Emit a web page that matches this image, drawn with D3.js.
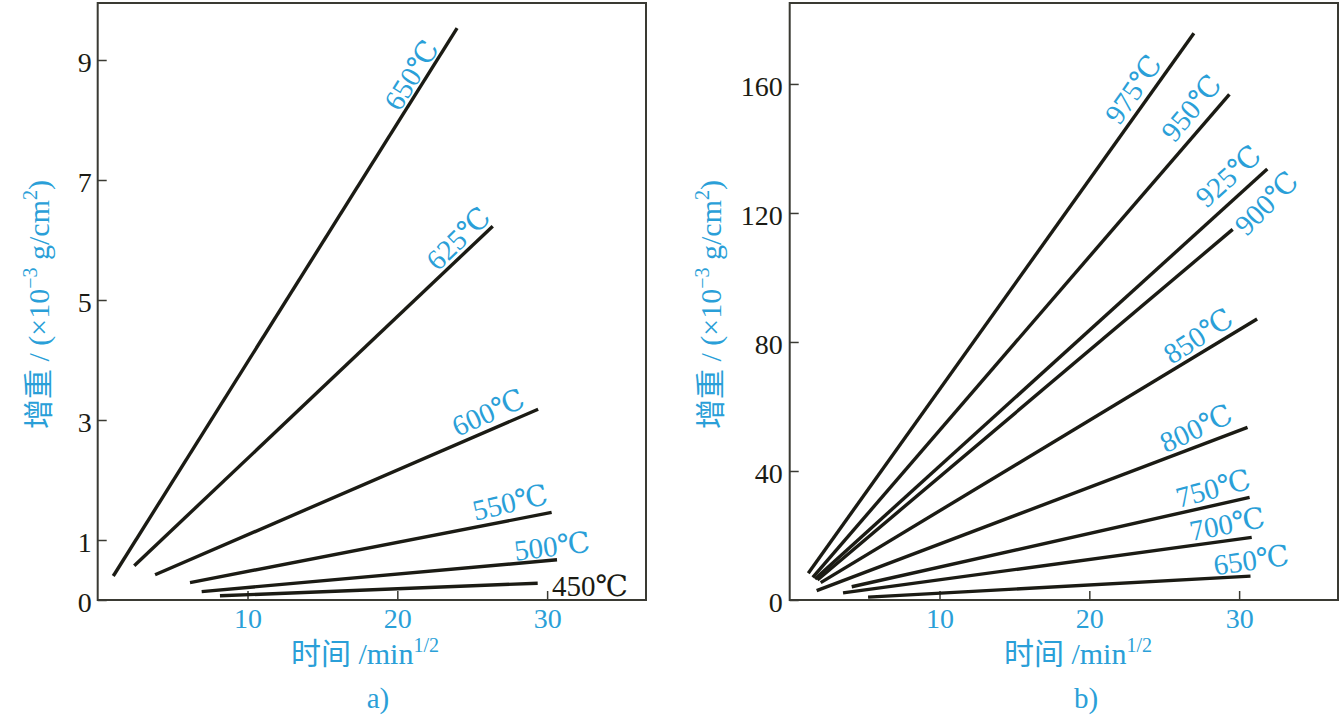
<!DOCTYPE html>
<html><head><meta charset="utf-8">
<script src="https://cdn.jsdelivr.net/npm/d3@7"></script>
<style>
html,body{margin:0;padding:0;background:#fff;}
svg{display:block;}
</style></head>
<body>
<svg id="chart" width="1341" height="725"></svg>
<script>
// ---------- DATA ----------
// Panel a) : oxidation weight gain lines (x = time^0.5 in min^1/2, y = ×10^-3 g/cm^2)
const tempsA = ["650℃","625℃","600℃","550℃","500℃","450℃"];
const linesA = [
  [[1.04,0.40],[23.99,9.53]],
  [[2.44,0.57],[26.37,6.23]],
  [[3.83,0.42],[29.40,3.18]],
  [[6.16,0.29],[30.30,1.46]],
  [[6.94,0.14],[30.66,0.67]],
  [[8.16,0.07],[29.37,0.28]]
];
const labelPosA = [[20.92,8.75],[24.05,6.03],[26.06,3.13],[27.52,1.63],[30.32,0.90],[32.86,0.23]];
const xTicksA = [10,20,30];
const yTicksA = [0,1,3,5,7,9];

// Panel b)
const tempsB = ["975℃","950℃","925℃","900℃","850℃","800℃","750℃","700℃","650℃"];
const linesB = [
  [[1.24,8.3],[26.98,175.7]],
  [[1.54,7.0],[29.35,156.8]],
  [[1.69,6.5],[31.88,133.6]],
  [[1.85,6.2],[29.57,114.9]],
  [[2.07,5.4],[31.20,87.1]],
  [[1.80,2.9],[30.56,53.5]],
  [[4.14,4.1],[30.70,31.8]],
  [[3.56,2.2],[30.84,19.4]],
  [[5.23,0.9],[30.76,7.4]]
];
const labelPosB = [[22.92,158.4],[26.79,152.6],[29.26,131.5],[31.80,123.1],[27.26,81.9],[27.12,53.3],[28.26,34.7],[29.20,23.6],[30.80,12.4]];
const xTicksB = [10,20,30];
const yTicksB = [0,40,80,120,160];

// ---------- LAYOUT / STYLE ----------
const CYAN = "#2a9fd8";
const INK = "#1b1b14";
const SERIF = "'Liberation Serif','DejaVu Serif',serif";
const CJK = "'Noto Sans CJK SC','Noto Sans CJK JP',sans-serif";
const labelAnglesA = [-58,-44,-24,-13,-7,0];
const labelColorsA = [CYAN,CYAN,CYAN,CYAN,CYAN,INK];
const labelAnglesB = [-55,-50,-42,-45,-33,-25,-15,-11,-8];

const svg = d3.select("#chart");

function panel(cfg){
  const x = d3.scaleLinear().domain([0,cfg.xMax]).range([cfg.left,cfg.right]);
  const y = d3.scaleLinear().domain([0,cfg.yMax]).range([cfg.bottom,cfg.top]);
  const g = svg.append("g");

  // frame
  g.append("rect").attr("x",cfg.left).attr("y",cfg.top)
    .attr("width",cfg.right-cfg.left).attr("height",cfg.bottom-cfg.top)
    .attr("fill","none").attr("stroke","#3a3a33").attr("stroke-width",2);

  // x axis (inward ticks)
  const xa = g.append("g").attr("transform",`translate(0,${cfg.bottom})`)
    .call(d3.axisBottom(x).tickValues(cfg.xTicks).tickSize(-9).tickPadding(8).tickFormat(d3.format("d")));
  xa.select(".domain").remove();
  xa.selectAll(".tick line").attr("stroke","#3a3a33").attr("stroke-width",1.5);
  xa.selectAll(".tick text").attr("fill",CYAN).style("font-family",SERIF).style("font-size","28px");

  // y axis (inward ticks)
  const ya = g.append("g").attr("transform",`translate(${cfg.left},0)`)
    .call(d3.axisLeft(y).tickValues(cfg.yTicks).tickSize(-9).tickPadding(cfg.yPad).tickFormat(d3.format("d")));
  ya.select(".domain").remove();
  ya.selectAll(".tick line").attr("stroke","#3a3a33").attr("stroke-width",1.5);
  ya.selectAll(".tick text").attr("fill",INK).attr("dy","0.4em").style("font-family",SERIF).style("font-size","28px");

  // lines
  const line = d3.line().x(d=>x(d[0])).y(d=>y(d[1]));
  g.selectAll("path.series").data(cfg.lines).enter().append("path")
    .attr("class","series").attr("d",line)
    .attr("fill","none").attr("stroke",INK).attr("stroke-width",3.4);

  // labels
  g.selectAll("text.lab").data(cfg.temps).enter().append("text")
    .attr("class","lab")
    .attr("transform",(d,i)=>`translate(${x(cfg.labelPos[i][0])},${y(cfg.labelPos[i][1])}) rotate(${cfg.angles[i]})`)
    .attr("text-anchor","middle").attr("dy","0.35em")
    .attr("fill",(d,i)=>cfg.colors[i])
    .style("font-family",SERIF).style("font-size","29px")
    .text(d=>d);

  // x title
  const xt = g.append("text").attr("x",cfg.xTitleX).attr("y",664).attr("text-anchor","middle")
    .attr("fill",CYAN).style("font-size","30px");
  xt.append("tspan").style("font-family",CJK).text("时间");
  xt.append("tspan").style("font-family",SERIF).text(" /min");
  xt.append("tspan").style("font-family",SERIF).style("font-size","20px").attr("dy",-12).text("1/2");

  // y title
  const yt = g.append("text")
    .attr("transform",`translate(${cfg.yTitleX},${(cfg.top+cfg.bottom)/2+3}) rotate(-90)`)
    .attr("text-anchor","middle").attr("fill",CYAN).style("font-size","30px");
  yt.append("tspan").style("font-family",CJK).text("增重");
  yt.append("tspan").style("font-family",SERIF).text(" / (×10");
  yt.append("tspan").style("font-family",SERIF).style("font-size","20px").attr("dy",-12).text("−3");
  yt.append("tspan").style("font-family",SERIF).attr("dy",12).text(" g/cm");
  yt.append("tspan").style("font-family",SERIF).style("font-size","20px").attr("dy",-12).text("2");
  yt.append("tspan").style("font-family",SERIF).attr("dy",12).text(")");

  // sub caption
  g.append("text").attr("x",cfg.capX).attr("y",708).attr("text-anchor","middle")
    .attr("fill",CYAN).style("font-family",SERIF).style("font-size","29px").text(cfg.cap);
}

panel({left:97.7,right:646,top:3,bottom:600,xMax:36.6,yMax:9.95,
  xTicks:xTicksA,yTicks:yTicksA,lines:linesA,temps:tempsA,labelPos:labelPosA,
  angles:labelAnglesA,colors:labelColorsA,yPad:6,
  xTitleX:365,yTitleX:49,capX:378,cap:"a)"});

panel({left:789.7,right:1338,top:3,bottom:600,xMax:36.6,yMax:185.1,
  xTicks:xTicksB,yTicks:yTicksB,lines:linesB,temps:tempsB,labelPos:labelPosB,
  angles:labelAnglesB,colors:tempsB.map(()=>CYAN),yPad:7,
  xTitleX:1078,yTitleX:721,capX:1086,cap:"b)"});
</script>
</body></html>
